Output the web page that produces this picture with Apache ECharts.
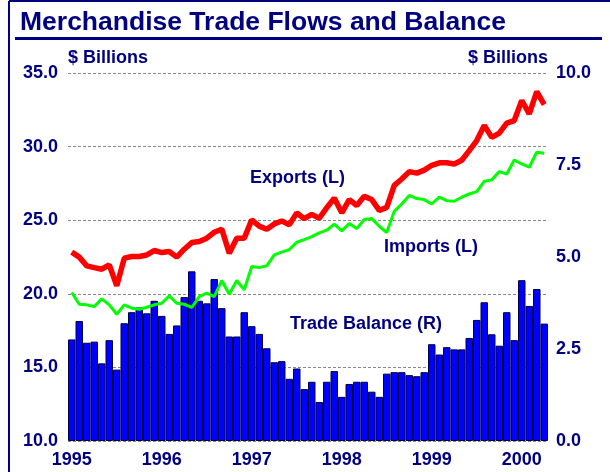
<!DOCTYPE html>
<html>
<head>
<meta charset="utf-8">
<title>Merchandise Trade Flows and Balance</title>
<script src="https://cdn.jsdelivr.net/npm/echarts@6/dist/echarts.min.js"></script>
<style>
  html, body { margin: 0; padding: 0; background: #fff; }
  #main { width: 610px; height: 472px; }
</style>
</head>
<body>
<div id="main"></div>
<script>
// monthly, Jan 1995 .. Apr 2000
var months = [
  '1995-01','1995-02','1995-03','1995-04','1995-05','1995-06','1995-07','1995-08','1995-09','1995-10','1995-11','1995-12',
  '1996-01','1996-02','1996-03','1996-04','1996-05','1996-06','1996-07','1996-08','1996-09','1996-10','1996-11','1996-12',
  '1997-01','1997-02','1997-03','1997-04','1997-05','1997-06','1997-07','1997-08','1997-09','1997-10','1997-11','1997-12',
  '1998-01','1998-02','1998-03','1998-04','1998-05','1998-06','1998-07','1998-08','1998-09','1998-10','1998-11','1998-12',
  '1999-01','1999-02','1999-03','1999-04','1999-05','1999-06','1999-07','1999-08','1999-09','1999-10','1999-11','1999-12',
  '2000-01','2000-02','2000-03','2000-04'
];

// $ billions, left axis
var exportsL = [
  22.83, 22.49, 21.90, 21.78, 21.67, 21.97, 20.54, 22.42, 22.53, 22.53, 22.64, 22.94,
  22.80, 22.87, 22.49, 23.03, 23.48, 23.55, 23.78, 24.18, 24.39, 22.76, 23.78, 23.78,
  25.02, 24.60, 24.39, 24.75, 24.95, 24.68, 25.50, 25.10, 25.40, 25.13, 25.85, 26.50,
  25.50, 26.40, 26.00, 26.62, 26.40, 25.67, 25.87, 27.37, 27.80, 28.30, 28.20, 28.40,
  28.73, 28.90, 28.90, 28.82, 29.07, 29.73, 30.41, 31.43, 30.63, 30.91, 31.59, 31.77,
  33.13, 32.22, 33.74, 32.85
];
var importsL = [
  20.09, 19.29, 19.25, 19.13, 19.66, 19.25, 18.61, 19.25, 19.02, 18.95, 19.09, 19.25,
  19.36, 19.86, 19.36, 19.29, 19.07, 19.81, 20.04, 19.81, 20.90, 19.97, 20.90, 20.27,
  21.85, 21.78, 21.90, 22.64, 22.83, 23.00, 23.50, 23.68, 23.88, 24.14, 24.32, 24.73,
  24.28, 24.77, 24.43, 25.05, 25.11, 24.59, 24.16, 25.60, 26.10, 26.68, 26.47, 26.40,
  26.10, 26.56, 26.33, 26.29, 26.56, 26.78, 26.94, 27.64, 27.74, 28.30, 28.14, 29.09,
  28.82, 28.60, 29.62, 29.55
];
// $ billions, right axis
var balanceR = [
  2.76, 3.26, 2.67, 2.70, 2.11, 2.74, 1.94, 3.20, 3.50, 3.63, 3.47, 3.81,
  3.40, 2.91, 3.14, 3.91, 4.61, 3.81, 3.74, 4.40, 3.61, 2.84, 2.84, 3.50,
  3.12, 2.91, 2.52, 2.14, 2.17, 1.69, 1.97, 1.41, 1.61, 1.06, 1.61, 1.90,
  1.20, 1.55, 1.61, 1.61, 1.34, 1.20, 1.83, 1.87, 1.87, 1.79, 1.76, 1.87,
  2.63, 2.35, 2.55, 2.49, 2.49, 2.80, 3.29, 3.77, 2.90, 2.59, 3.50, 2.74,
  4.37, 3.67, 4.13, 3.19
];

var navy = '#000080';
var font = '"Liberation Sans", Arial, sans-serif';

var myChart = echarts.init(document.getElementById('main'), null, {renderer: 'canvas'});

myChart.setOption({
    animation: false,
    textStyle: {fontFamily: font},
    grid: {left: 68, right: 62, top: 73, bottom: 31},
    xAxis: {
        type: 'category',
        data: months,
        axisLine: {show: false},
        axisTick: {show: false},
        axisLabel: {
            interval: function(i){ return i % 12 === 0; },
            formatter: function(v){ return v.slice(0, 4); },
            color: navy, fontWeight: 'bold', fontSize: 18, fontFamily: font, margin: 10
        }
    },
    yAxis: [{
        type: 'value', min: 10, max: 35, interval: 5,
        name: '$ Billions', nameLocation: 'end', nameGap: 6,
        nameTextStyle: {color: navy, fontWeight: 'bold', fontSize: 18, fontFamily: font, align: 'left'},
        axisLine: {show: false}, axisTick: {show: false},
        axisLabel: {
            formatter: function(v){ return v.toFixed(1); },
            color: navy, fontWeight: 'bold', fontSize: 18, fontFamily: font, margin: 10
        },
        splitLine: {lineStyle: {color: '#888', type: [3, 2], width: 1}}
    },{
        type: 'value', min: 0, max: 10, interval: 2.5, position: 'right',
        name: '$ Billions', nameLocation: 'end', nameGap: 6,
        nameTextStyle: {color: navy, fontWeight: 'bold', fontSize: 18, fontFamily: font, align: 'right'},
        axisLine: {show: false}, axisTick: {show: false},
        axisLabel: {
            formatter: function(v){ return v.toFixed(1); },
            color: navy, fontWeight: 'bold', fontSize: 18, fontFamily: font, margin: 8
        },
        splitLine: {show: false}
    }],
    series: [{
        name: 'Trade Balance (R)',
        type: 'bar',
        yAxisIndex: 1,
        data: balanceR,
        barCategoryGap: 0,
        itemStyle: {color: '#0000ff', borderColor: '#000040', borderWidth: 1},
        z: 2
    },{
        name: 'Imports (L)',
        type: 'line',
        yAxisIndex: 0,
        data: importsL,
        symbol: 'none',
        lineStyle: {color: '#00ff00', width: 3},
        z: 3
    },{
        name: 'Exports (L)',
        type: 'line',
        yAxisIndex: 0,
        data: exportsL,
        symbol: 'none',
        lineStyle: {color: '#ff0000', width: 5.5},
        z: 4
    }],
    graphic: [
        // frame
        {type: 'line', shape: {x1: 9, y1: 1, x2: 610, y2: 1}, style: {stroke: navy, lineWidth: 2}},
        {type: 'line', shape: {x1: 9, y1: 1, x2: 9, y2: 472}, style: {stroke: navy, lineWidth: 2}},
        // title + rule
        {type: 'text', x: 20, y: 23, style: {text: 'Merchandise Trade Flows and Balance', fill: navy, font: 'bold 26.5px ' + font, textVerticalAlign: 'middle'}},
        {type: 'rect', shape: {x: 15, y: 37, width: 587, height: 3}, style: {fill: navy}},
        // series labels
        {type: 'text', x: 250, y: 178, style: {text: 'Exports (L)', fill: navy, font: 'bold 18px ' + font, textVerticalAlign: 'middle'}},
        {type: 'text', x: 384, y: 247, style: {text: 'Imports (L)', fill: navy, font: 'bold 18px ' + font, textVerticalAlign: 'middle'}},
        {type: 'text', x: 290, y: 324, style: {text: 'Trade Balance (R)', fill: navy, font: 'bold 18px ' + font, textVerticalAlign: 'middle'}}
    ]
});
</script>
</body>
</html>
